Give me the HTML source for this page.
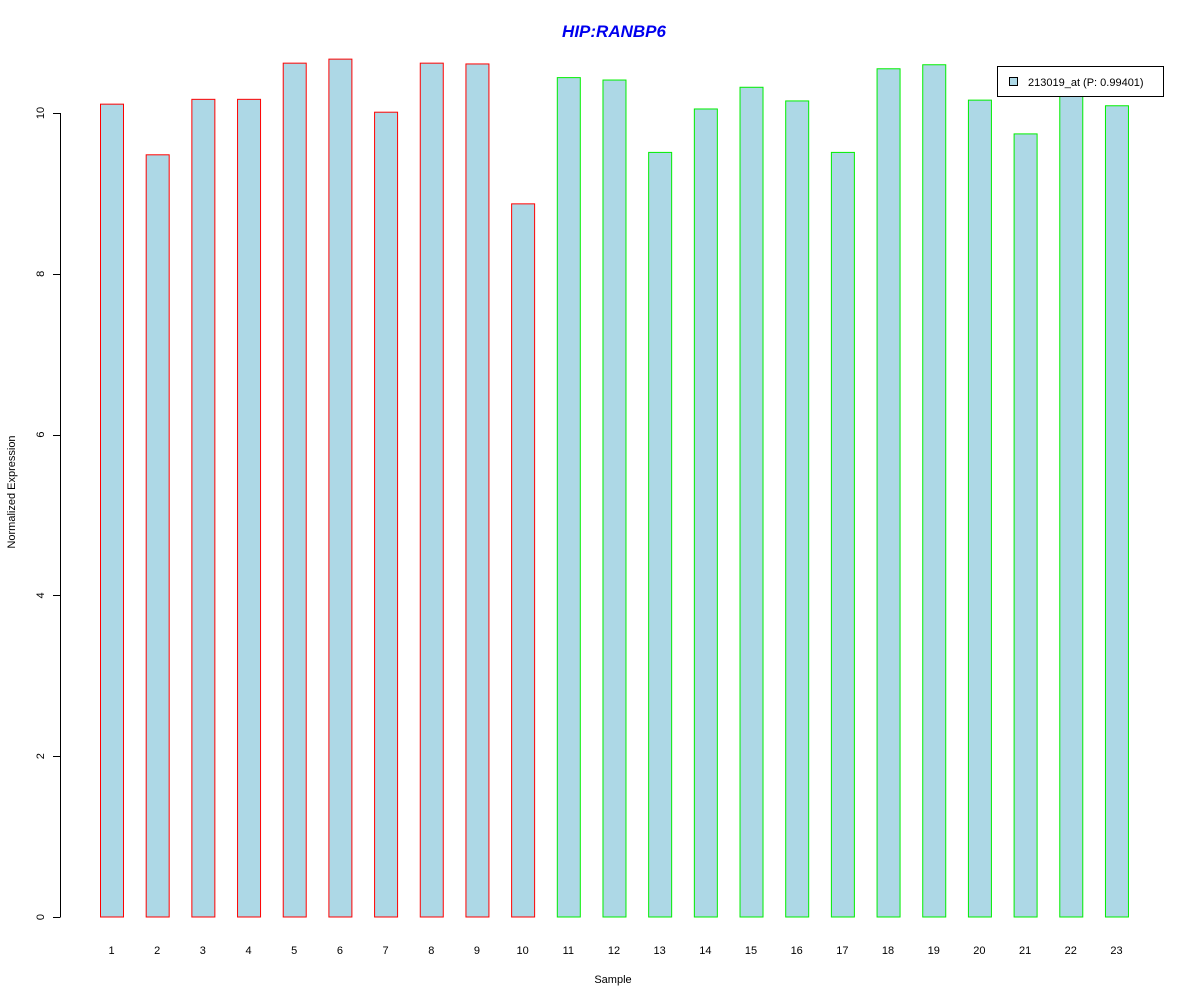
<!DOCTYPE html>
<html><head><meta charset="utf-8"><style>
body{margin:0;background:#fff}
svg{display:block;font-family:"Liberation Sans",Arial,sans-serif}
</style></head><body>
<svg id="chart" width="1200" height="1000" xmlns="http://www.w3.org/2000/svg">
<text x="614" y="37" text-anchor="middle" font-size="17" font-weight="bold" font-style="italic" fill="#0000ee">HIP:RANBP6</text>
<text transform="translate(15,492) rotate(-90)" text-anchor="middle" font-size="11">Normalized Expression</text>
<text x="613" y="983" text-anchor="middle" font-size="11">Sample</text>
<g id="bars"></g><g id="yaxis"></g><g id="xlabels"></g>
<g>
<rect x="997.5" y="66.5" width="166" height="30" fill="#fff" stroke="#000"/>
<rect x="1009.5" y="77.5" width="8" height="8" fill="#add8e6" stroke="#000"/>
<text x="1028" y="86" font-size="11">213019_at (P: 0.99401)</text>
</g>
</svg>
<script>
const categories=["1","2","3","4","5","6","7","8","9","10","11","12","13","14","15","16","17","18","19","20","21","22","23"];
const values=[10.11,9.48,10.17,10.17,10.62,10.67,10.01,10.62,10.61,8.87,10.44,10.41,9.51,10.05,10.32,10.15,9.51,10.55,10.60,10.16,9.74,10.25,10.09];
const groups=["red","red","red","red","red","red","red","red","red","red","green","green","green","green","green","green","green","green","green","green","green","green","green"];
const yTicks=[0,2,4,6,8,10];
const NS="http://www.w3.org/2000/svg";
const y=v=>917-v*80.4;
const x=i=>100+i*45.68;
const bw=23;
const bars=document.getElementById('bars');
values.forEach((v,i)=>{
 const r=document.createElementNS(NS,'rect');
 
 
 r.setAttribute('x',x(i)+0.5);r.setAttribute('y',y(v));
 r.setAttribute('width',bw);r.setAttribute('height',917-y(v));
 r.setAttribute('fill','#add8e6');
 r.setAttribute('stroke',groups[i]==='red'?'#ff0000':'#00ee00');
 bars.appendChild(r);
 const t=document.createElementNS(NS,'text');
 
 
 t.setAttribute('x',x(i)+bw/2);t.setAttribute('y',954);
 t.setAttribute('text-anchor','middle');t.setAttribute('font-size','11');
 t.textContent=categories[i];
 document.getElementById('xlabels').appendChild(t);
});
const ya=document.getElementById('yaxis');
const ax=document.createElementNS(NS,'line');


ax.setAttribute('x1',60.5);ax.setAttribute('x2',60.5);
ax.setAttribute('y1',y(yTicks[0]));ax.setAttribute('y2',y(yTicks[yTicks.length-1]));
ax.setAttribute('stroke','#000');ya.appendChild(ax);
yTicks.forEach(v=>{
 const l=document.createElementNS(NS,'line');
 
 
 l.setAttribute('x1',53);l.setAttribute('x2',60.5);
 l.setAttribute('y1',Math.round(y(v))+0.5);l.setAttribute('y2',Math.round(y(v))+0.5);
 l.setAttribute('stroke','#000');ya.appendChild(l);
 const t=document.createElementNS(NS,'text');
 
 
 t.setAttribute('transform','translate(44,'+y(v)+') rotate(-90)');
 t.setAttribute('text-anchor','middle');t.setAttribute('font-size','11');
 t.textContent=v;ya.appendChild(t);
});
</script>
</body></html>
